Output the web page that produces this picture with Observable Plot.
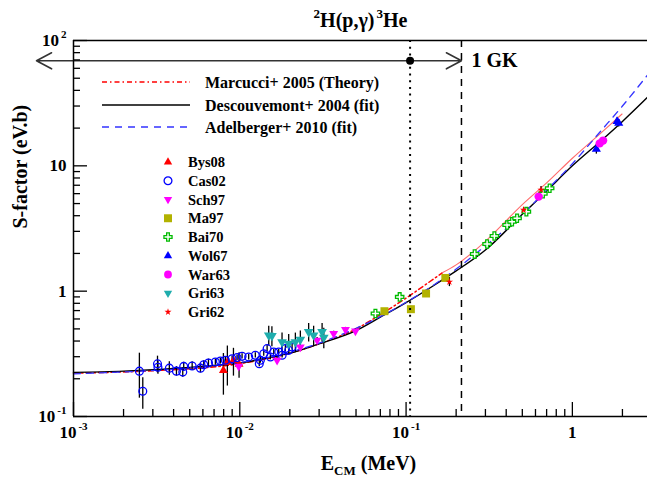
<!DOCTYPE html>
<html><head><meta charset="utf-8">
<script src="https://cdn.jsdelivr.net/npm/d3@7"></script>
<script src="https://cdn.jsdelivr.net/npm/@observablehq/plot@0.6"></script>
<style>body{margin:0;background:#fff}</style>
</head><body><div id="chart"></div>
<script>
// ---------- data ----------
const xDomain = [0.001, 2.83];
const yDomain = [0.1, 100];
const xMajor = [0.001, 0.01, 0.1, 1];
const xTickLabels = ["10^{-3}", "10^{-2}", "10^{-1}", "1"];
const yMajor = [0.1, 1, 10, 100];
const yTickLabels = ["10^{-1}", "1", "10", "10^{2}"];
const minorMult = [2, 3, 4, 5, 6, 7, 8, 9];

// curves [E (MeV), S (eV b)]
const marcucciE = [0.001, 0.003, 0.01, 0.02, 0.03, 0.05, 0.07, 0.1, 0.13, 0.165];
const marcucciS = [0.222, 0.232, 0.264, 0.32, 0.38, 0.50, 0.65, 0.88, 1.12, 1.40];
const marcucciHiE = [0.165, 0.2, 0.3, 0.5, 0.7, 1, 1.5, 1.99];
const marcucciHiS = [1.40, 1.62, 2.5, 4.9, 7.3, 11.5, 18.5, 25.9];
const descouvE = [0.001, 0.002, 0.003, 0.005, 0.007, 0.01, 0.015, 0.02, 0.03, 0.05, 0.07, 0.1, 0.15, 0.2, 0.3, 0.5, 0.7, 1, 1.5, 2, 2.83];
const descouvS = [0.225, 0.230, 0.236, 0.246, 0.255, 0.267, 0.295, 0.32, 0.38, 0.485, 0.62, 0.81, 1.13, 1.45, 2.13, 4.1, 6.3, 10.0, 16.0, 22.6, 35.2];
const adelbE = [0.001, 0.01, 0.03, 0.1, 0.2, 0.3, 0.5, 0.7, 1, 1.5, 2, 2.83];
const adelbS = [0.219, 0.27, 0.385, 0.815, 1.5, 2.3, 4.1, 6.4, 10.4, 19.3, 30, 53];

// data points [E (MeV), S (eV b), error]
const bys08 = [[0.00797, 0.233, 0.085], [0.00842, 0.270, 0.095], [0.00916, 0.280, 0.07], [0.0099, 0.262, 0.06]];
const cas02 = [[0.00249, 0.230, 0.09], [0.00261, 0.159, 0.045], [0.00320, 0.263, 0.04], [0.00322, 0.247, 0.03],
  [0.00377, 0.243, 0.03], [0.00416, 0.230, 0.02], [0.00460, 0.251, 0.02], [0.00454, 0.226, 0.02],
  [0.00517, 0.253, 0.02], [0.00580, 0.243, 0.02], [0.00607, 0.259, 0.02], [0.00648, 0.267, 0.02],
  [0.00713, 0.272, 0.015], [0.00764, 0.277, 0.015], [0.00819, 0.281, 0.015], [0.00899, 0.289, 0.015],
  [0.00963, 0.295, 0.015], [0.01032, 0.302, 0.015], [0.01131, 0.298, 0.015], [0.0124, 0.308, 0.015],
  [0.0133, 0.281, 0.015], [0.0131, 0.264, 0.015], [0.01393, 0.317, 0.015], [0.0146, 0.348, 0.02],
  [0.01528, 0.298, 0.015], [0.0160, 0.327, 0.015], [0.01714, 0.327, 0.015], [0.01797, 0.308, 0.015],
  [0.0188, 0.348, 0.02], [0.01968, 0.337, 0.015], [0.02063, 0.358, 0.02]];
const sch97 = [[0.00985, 0.251, 0.02], [0.01676, 0.281, 0.02], [0.02313, 0.358, 0.02], [0.02917, 0.406, 0.02],
  [0.0367, 0.459, 0.02], [0.0432, 0.494, 0.02], [0.0496, 0.481, 0.02]];
const ma97 = [[0.0741, 0.692, 0.03], [0.1069, 0.718, 0.04], [0.1319, 0.958, 0.04], [0.1722, 1.275, 0.05]];
const bai70 = [[0.0654, 0.663, 0.03], [0.0915, 0.900, 0.04], [0.2585, 1.977, 0.08], [0.307, 2.377, 0.1],
  [0.3397, 2.754, 0.1], [0.405, 3.373, 0.12], [0.434, 3.58, 0.12], [0.465, 3.816, 0.13],
  [0.529, 4.31, 0.15], [0.665, 6.0, 0.2], [0.730, 6.63, 0.2]];
const wol67 = [[1.394, 13.6, 1.2], [1.857, 22.6, 1.5], [1.90, 21.9, 1.5]];
const war63 = [[0.627, 5.68, 0.3], [1.46, 15.1, 0.8], [1.53, 15.9, 0.8]];
const gri63 = [[0.01493, 0.445, 0.08], [0.0156, 0.44, 0.08], [0.01795, 0.393, 0.07], [0.01968, 0.382, 0.07],
  [0.02159, 0.393, 0.07], [0.02313, 0.411, 0.07], [0.02595, 0.473, 0.08], [0.0278, 0.445, 0.08],
  [0.03126, 0.473, 0.08], [0.0320, 0.427, 0.08]];
const gri62 = [[0.1822, 1.187, 0.1], [0.509, 4.45, 0.2], [0.648, 6.43, 0.4]];

// annotations: Gamow-peak marker, 1 GK limit
const gamowE = 0.1057, limitE = 0.2153, arrowS = 68.9, arrowLeftE = 0.000599;

// ---------- build ----------
const FONT = "'Liberation Serif','Times New Roman',serif";
const W = 647, H = 479, mL = 73, mR = 0, mT = 40, mB = 63;
const fw = W - mL - mR, fh = H - mT - mB;

const sqrt3 = Math.sqrt(3);
const triDown = {draw(ctx, size) {
  const y = -Math.sqrt(size / (sqrt3 * 3));
  ctx.moveTo(0, -y * 2); ctx.lineTo(-sqrt3 * y, y); ctx.lineTo(sqrt3 * y, y); ctx.closePath();
}};
const d3sym = {triangle: d3.symbolTriangle, circle: d3.symbolCircle, square: d3.symbolSquare, cross: d3.symbolCross, star: d3.symbolStar};

const rows = (a) => a.map(([E, S, err]) => ({E, S, err}));
const curve = (E, S) => E.map((e, i) => ({E: e, S: S[i]}));

const series = [
  {name: "Bys08", data: bys08, symbol: "triangle", fill: "#ff0000", stroke: "none", r: 3.3},
  {name: "Cas02", data: cas02, symbol: "circle", fill: "none", stroke: "#0000ff", r: 3.9},
  {name: "Sch97", data: sch97, symbol: triDown, fill: "#ff00ff", stroke: "none", r: 3.3},
  {name: "Ma97", data: ma97, symbol: "square", fill: "#b2b200", stroke: "none", r: 4.5},
  {name: "Bai70", data: bai70, symbol: "cross", fill: "white", stroke: "#00bb00", r: 3.5},
  {name: "Wol67", data: wol67, symbol: "triangle", fill: "#0000ff", stroke: "none", r: 3.4},
  {name: "War63", data: war63, symbol: "circle", fill: "#ff00ff", stroke: "none", r: 4.2},
  {name: "Gri63", data: gri63, symbol: triDown, fill: "#1fadad", stroke: "none", r: 3.6},
  {name: "Gri62", data: gri62, symbol: "star", fill: "#ff0000", stroke: "none", r: 2.3}
];
const allPts = series.flatMap(s => rows(s.data));

const lineLegend = [
  {label: "Marcucci+ 2005 (Theory)", stroke: "#ff0000", width: 1.5, dash: "5,3,1.5,3"},
  {label: "Descouvemont+ 2004 (fit)", stroke: "#000000", width: 1.5, dash: null},
  {label: "Adelberger+ 2010 (fit)", stroke: "#3333ff", width: 1.3, dash: "7,6"}
];

const xMinor = xMajor.flatMap(d => minorMult.map(m => m * d)).filter(v => v < xDomain[1]);
const yMinor = yMajor.slice(0, 3).flatMap(d => minorMult.map(m => m * d));

const marks = [
  // curves
  Plot.line(curve(marcucciE, marcucciS), {x: "E", y: "S", stroke: "#ff0000", strokeWidth: 1.5, strokeDasharray: "5,3,1.5,3", curve: "monotone-x"}),
  Plot.line(curve(marcucciHiE, marcucciHiS), {x: "E", y: "S", stroke: "#ff6a6a", strokeWidth: 1.1, curve: "monotone-x"}),
  Plot.line(curve(descouvE, descouvS), {x: "E", y: "S", stroke: "#000", strokeWidth: 1.4, curve: "monotone-x"}),
  Plot.line(curve(adelbE, adelbS), {x: "E", y: "S", stroke: "#3333ff", strokeWidth: 1.3, strokeDasharray: "7,6", curve: "monotone-x"}),
  // error bars
  Plot.ruleX(allPts, {x: "E", y1: d => d.S - d.err, y2: d => d.S + d.err, stroke: "#000", strokeWidth: 1.3}),
  // points
  ...series.map(s => Plot.dot(rows(s.data), {x: "E", y: "S", symbol: s.symbol, fill: s.fill, stroke: s.stroke, strokeWidth: 1.3, r: s.r})),
  // vertical reference lines
  Plot.ruleX([gamowE], {stroke: "#000", strokeWidth: 2, strokeDasharray: "2,4.7"}),
  Plot.ruleX([limitE], {stroke: "#000", strokeWidth: 1.5, strokeDasharray: "7,6"}),
  // double arrow
  Plot.arrow([{x1: gamowE, x2: arrowLeftE}, {x1: gamowE, x2: limitE}], {x1: "x1", x2: "x2", y1: () => arrowS, y2: () => arrowS, stroke: "#333", strokeWidth: 1.6, headLength: 16, headAngle: 56}),
  Plot.dot([{E: gamowE, S: arrowS}], {x: "E", y: "S", r: 4, fill: "#000"}),
  Plot.text([{E: limitE, S: arrowS}], {x: "E", y: "S", text: () => "1 GK", dx: 10, textAnchor: "start", lineAnchor: "middle", fontSize: 20}),
  // frame
  Plot.ruleX([xDomain[0]], {stroke: "#000", strokeWidth: 1.5}),
  Plot.ruleY([yDomain[0], yDomain[1]], {stroke: "#000", strokeWidth: 1.5}),
  // ticks (inward)
  Plot.tickX(xMajor, {x: d => d, insetTop: fh - 14, stroke: "#000", strokeWidth: 1.3}),
  Plot.tickX(xMinor, {x: d => d, insetTop: fh - 7, stroke: "#000", strokeWidth: 1.3}),
  Plot.tickY(yMajor, {y: d => d, insetRight: fw - 14, stroke: "#000", strokeWidth: 1.3}),
  Plot.tickY(yMinor, {y: d => d, insetRight: fw - 7, stroke: "#000", strokeWidth: 1.3}),
  // tick labels
  Plot.text(xMajor, {x: d => d, text: (d, i) => xTickLabels[i], frameAnchor: "bottom", dy: 16, lineAnchor: "middle", fontSize: 17}),
  Plot.text(yMajor, {y: d => d, text: (d, i) => yTickLabels[i], frameAnchor: "left", dx: -7, textAnchor: "end", lineAnchor: "middle", fontSize: 17}),
  // titles
  Plot.text(["^{2}H(p,γ)^{3}He"], {frameAnchor: "top", dy: -20, lineAnchor: "middle", fontSize: 20}),
  Plot.text(["E_{CM} (MeV)"], {frameAnchor: "bottom", dy: 47, dx: 8, lineAnchor: "middle", fontSize: 20}),
  Plot.text(["S-factor (eV.b)"], {frameAnchor: "left", dx: -53, rotate: -90, lineAnchor: "middle", fontSize: 20})
];

const svg = Plot.plot({
  width: W, height: H,
  marginLeft: mL, marginRight: mR, marginTop: mT, marginBottom: mB,
  x: {type: "log", domain: xDomain, axis: null},
  y: {type: "log", domain: yDomain, axis: null},
  style: {fontFamily: FONT, fontWeight: "bold", fontSize: "17px", background: "white", color: "black", overflow: "visible"},
  marks
});
document.getElementById("chart").appendChild(svg);

// rich text: ^{sup} and _{sub}
function rich(el) {
  const s = el.textContent;
  if (!/[\^_]\{/.test(s)) return;
  const fs = parseFloat(getComputedStyle(el).fontSize) || 17;
  while (el.firstChild) el.removeChild(el.firstChild);
  const NS = "http://www.w3.org/2000/svg";
  let cur = 0, last = 0, m;
  const re = /([\^_])\{([^}]*)\}/g;
  const add = (txt, target, size, dx) => {
    const t = document.createElementNS(NS, "tspan");
    t.setAttribute("dy", (target - cur).toFixed(2));
    if (size) t.setAttribute("font-size", size.toFixed(1));
    if (dx) t.setAttribute("dx", dx);
    t.textContent = txt;
    el.appendChild(t);
    cur = target;
  };
  while ((m = re.exec(s))) {
    if (m.index > last) add(s.slice(last, m.index), 0, null, 0);
    if (m[1] === "^") add(m[2], -0.45 * fs, 0.65 * fs, m.index > 0 ? 2 : 0);
    else add(m[2], 0.25 * fs, 0.65 * fs, 0);
    last = re.lastIndex;
  }
  if (last < s.length) add(s.slice(last), 0, null, 0);
}
svg.querySelectorAll("text").forEach(rich);

// legend (inside the frame, like the reference)
const lg = d3.select(svg).append("g").attr("font-family", FONT).attr("font-weight", "bold").attr("text-anchor", "start");
const lineY = [82, 105, 127];
lineLegend.forEach((d, i) => {
  lg.append("line").attr("x1", 102).attr("x2", 190).attr("y1", lineY[i]).attr("y2", lineY[i])
    .attr("stroke", d.stroke).attr("stroke-width", d.width).attr("stroke-dasharray", d.dash);
  lg.append("text").attr("x", 205).attr("y", lineY[i]).attr("dy", "0.35em").attr("font-size", 16).attr("text-anchor", "start").text(d.label);
});
series.forEach((s, i) => {
  const y = 162 + i * 18.75;
  const type = typeof s.symbol === "string" ? d3sym[s.symbol] : s.symbol;
  const r = s.symbol === "star" ? 2.2 : s.symbol === "square" ? 4.5 : (s.symbol === "circle" ? 3.9 : (s.symbol === "cross" ? 3.4 : 3.1));
  lg.append("path").attr("transform", `translate(168,${y})`)
    .attr("d", d3.symbol().type(type).size(Math.PI * r * r)())
    .attr("fill", s.fill).attr("stroke", s.stroke).attr("stroke-width", 1.3);
  lg.append("text").attr("x", 188).attr("y", y).attr("dy", "0.35em").attr("font-size", 14.5).attr("text-anchor", "start").text(s.name);
});
</script>
</body></html>
